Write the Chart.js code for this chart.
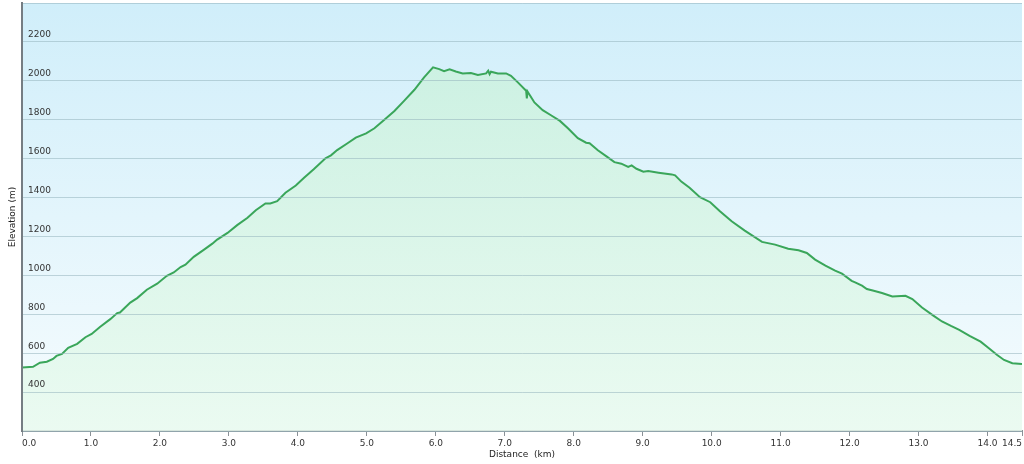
<!DOCTYPE html>
<html>
<head>
<meta charset="utf-8">
<script src="https://cdn.jsdelivr.net/npm/chart.js@4"></script>
<style>
  html, body { margin: 0; padding: 0; background: #fff; }
  #wrap { width: 1024px; height: 464px; }
</style>
</head>
<body>
<div id="wrap"><canvas id="chart"></canvas></div>
<script>
// elevation profile
const distanceKm = [
    0, 0.16, 0.26, 0.36, 0.45, 0.50, 0.58, 0.67, 0.80, 0.92,
    1.01, 1.13, 1.28, 1.38, 1.42, 1.57, 1.67, 1.81, 1.96, 2.10,
    2.20, 2.30, 2.37, 2.49, 2.64, 2.76, 2.83, 2.98, 3.12, 3.27,
    3.39, 3.53, 3.60, 3.70, 3.82, 3.97, 4.09, 4.23, 4.40, 4.48,
    4.57, 4.72, 4.84, 4.99, 5.11, 5.25, 5.40, 5.54, 5.69, 5.83,
    5.96, 6.05, 6.12, 6.20, 6.29, 6.39, 6.51, 6.61, 6.73, 6.76,
    6.78, 6.80, 6.90, 7.02, 7.09, 7.19, 7.31, 7.32, 7.33, 7.43,
    7.55, 7.67, 7.80, 7.92, 8.06, 8.18, 8.23, 8.35, 8.47, 8.59,
    8.69, 8.79, 8.84, 8.91, 9.01, 9.08, 9.23, 9.42, 9.47, 9.56,
    9.68, 9.83, 9.98, 10.12, 10.29, 10.48, 10.73, 10.92, 11.11, 11.26,
    11.38, 11.50, 11.65, 11.79, 11.89, 12.03, 12.08, 12.18, 12.25, 12.35,
    12.47, 12.62, 12.81, 12.91, 13.05, 13.22, 13.34, 13.47, 13.59, 13.74,
    13.90, 14.02, 14.14, 14.24, 14.36, 14.5
];
const elevationM = [
    527, 530, 551, 556, 570, 586, 596, 628, 648, 682,
    699, 735, 775, 806, 809, 860, 883, 926, 957, 998,
    1015, 1043, 1055, 1095, 1132, 1163, 1184, 1218, 1258, 1296,
    1335, 1370, 1370, 1381, 1425, 1462, 1502, 1545, 1602, 1617,
    1644, 1679, 1708, 1730, 1756, 1799, 1845, 1897, 1954, 2018,
    2069, 2060, 2050, 2059, 2048, 2038, 2040, 2030, 2038, 2052,
    2034, 2047, 2038, 2038, 2026, 1992, 1949, 1909, 1945, 1889,
    1849, 1823, 1794, 1755, 1705, 1682, 1679, 1643, 1613, 1582,
    1574, 1557, 1565, 1548, 1533, 1536, 1528, 1519, 1514, 1482,
    1450, 1402, 1376, 1330, 1278, 1230, 1172, 1158, 1137, 1129,
    1115, 1081, 1050, 1024, 1009, 972, 964, 947, 930, 921,
    909, 891, 895, 878, 835, 792, 763, 740, 720, 689,
    659, 625, 591, 565, 548, 544
];
const xTicks = [0, 1, 2, 3, 4, 5, 6, 7, 8, 9, 10, 11, 12, 13, 14, 14.5];
const yLabelsShown = [400, 600, 800, 1000, 1200, 1400, 1600, 1800, 2000, 2200];

const font = { family: '"DejaVu Sans", Verdana, sans-serif', size: 9 };

// sky-like gradient behind the plot
const plotBackground = {
    id: 'plotBackground',
    beforeDraw(chart) {
        const { ctx, chartArea: a } = chart;
        if (!a) return;
        const g = ctx.createLinearGradient(0, a.top, 0, a.bottom);
        g.addColorStop(0, '#d0eefa');
        g.addColorStop(1, '#f6fcfe');
        ctx.save();
        ctx.fillStyle = g;
        ctx.fillRect(a.left, a.top, a.right - a.left, a.bottom - a.top);
        ctx.restore();
    }
};

const points = distanceKm.map((d, i) => ({ x: d, y: elevationM[i] }));

new Chart(document.getElementById('chart').getContext('2d'), {
    type: 'line',
    data: {
        datasets: [{
            label: 'Elevation',
            data: points,
            borderColor: '#3aa65a',
            borderWidth: 2,
            pointRadius: 0,
            tension: 0,
            fill: 'start',
            backgroundColor: (ctx) => {
                const a = ctx.chart.chartArea;
                if (!a) return 'rgba(200,240,215,0.6)';
                const g = ctx.chart.ctx.createLinearGradient(0, a.top, 0, a.bottom);
                g.addColorStop(0, 'rgba(196,240,214,0.7)');
                g.addColorStop(1, 'rgba(232,250,238,0.8)');
                return g;
            }
        }]
    },
    options: {
        responsive: true,
        maintainAspectRatio: false,
        animation: false,
        layout: { padding: { top: 3, right: 2, left: 0, bottom: 0 } },
        plugins: { legend: { display: false }, tooltip: { enabled: false } },
        scales: {
            x: {
                type: 'linear',
                min: 0,
                max: 14.5,
                afterBuildTicks: (s) => { s.ticks = xTicks.map(v => ({ value: v })); },
                afterFit: (s) => { s.height = 33; s.paddingLeft = 0; s.paddingRight = 0; },
                ticks: {
                    align: 'inner',
                    font: font,
                    color: '#333',
                    padding: 2,
                    maxRotation: 0,
                    callback: (v) => Number(v).toFixed(1)
                },
                grid: { drawOnChartArea: false, tickLength: 5, color: '#8a9196' },
                border: { color: '#8a9196', width: 2 },
                title: { display: true, text: 'Distance  (km)', font: font, color: '#222', padding: { top: 1 } }
            },
            y: {
                min: 200,
                max: 2400,
                afterFit: (s) => { s.width = 22; s.paddingTop = 0; s.paddingBottom = 0; },
                ticks: {
                    z: 1,
                    stepSize: 200,
                    mirror: true,
                    padding: 6,
                    labelOffset: -7,
                    font: font,
                    color: '#333',
                    callback: (v) => yLabelsShown.includes(v) ? String(v) : ''
                },
                grid: { z: 1, color: 'rgba(150,180,190,0.55)', drawTicks: false },
                border: { z: 1, color: '#757d83', width: 2 },
                title: { display: true, text: 'Elevation (m)', font: font, color: '#222', padding: { top: 7 } }
            }
        }
    },
    plugins: [plotBackground]
});
</script>
</body>
</html>
